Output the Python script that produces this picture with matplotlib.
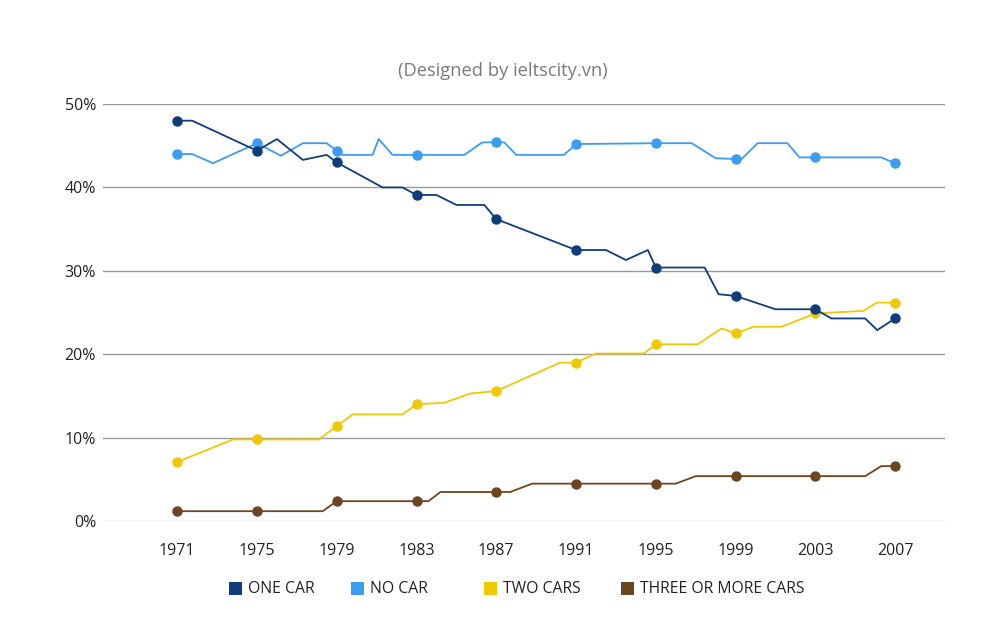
"""Car ownership share by household, 1971-2007."""

import matplotlib
matplotlib.use("Agg")
import matplotlib.pyplot as plt
from matplotlib.patches import Rectangle
from matplotlib.ticker import FuncFormatter

plt.rcParams["font.family"] = ["Open Sans", "DejaVu Sans"]

tick_years = [1971, 1975, 1979, 1983, 1987, 1991, 1995, 1999, 2003, 2007]

one_car_years = [1971, 1971.75, 1975, 1976, 1977.3, 1978.5, 1979, 1981.3, 1982.3, 1983,
                 1984, 1985, 1986.4, 1987, 1991, 1992.5, 1993.5, 1994.6, 1995, 1997.45,
                 1998.15, 1999, 2001, 2003, 2003.8, 2005.5, 2006.1, 2007]
one_car = [48.0, 48.0, 44.4, 45.8, 43.3, 43.9, 43.0, 40.0, 40.0, 39.1,
           39.1, 37.9, 37.9, 36.2, 32.5, 32.5, 31.3, 32.5, 30.4, 30.4,
           27.2, 27.0, 25.4, 25.4, 24.3, 24.3, 22.9, 24.3]

no_car_years = [1971, 1971.75, 1972.8, 1975, 1976.2, 1977.3, 1978.5, 1979, 1979.3, 1980.8,
                1981.1, 1981.8, 1983, 1985.4, 1986.3, 1987, 1987.4, 1988, 1990.4, 1991,
                1995, 1996.8, 1998, 1999, 1999.3, 2000.1, 2001.6, 2002.2, 2003, 2006.3, 2007]
no_car = [44.0, 44.0, 42.9, 45.3, 43.8, 45.3, 45.3, 44.4, 43.9, 43.9,
          45.8, 43.9, 43.9, 43.9, 45.4, 45.4, 45.4, 43.9, 43.9, 45.2,
          45.3, 45.3, 43.5, 43.4, 43.4, 45.3, 45.3, 43.6, 43.6, 43.6, 42.9]

two_cars_years = [1971, 1973.8, 1975, 1978.1, 1979, 1979.8, 1982.3, 1983, 1984.4, 1985.7,
                  1987, 1990.2, 1991, 1992, 1994.4, 1995, 1997.1, 1998.3, 1999, 1999.9,
                  2001.3, 2003, 2005.4, 2006.1, 2007]
two_cars = [7.1, 9.8, 9.8, 9.8, 11.4, 12.8, 12.8, 14.0, 14.2, 15.3,
            15.6, 19.0, 19.0, 20.1, 20.1, 21.2, 21.2, 23.1, 22.5, 23.3,
            23.3, 24.9, 25.2, 26.2, 26.2]

three_cars_years = [1971, 1975, 1978.3, 1979, 1983, 1983.6, 1984.2, 1987, 1987.7, 1988.8,
                    1991, 1995, 1996, 1997, 1999, 2003, 2005.5, 2006.3, 2007]
three_cars = [1.2, 1.2, 1.2, 2.4, 2.4, 2.4, 3.5, 3.5, 3.5, 4.5,
              4.5, 4.5, 4.5, 5.4, 5.4, 5.4, 5.4, 6.6, 6.6]

series = [
    ("ONE CAR", one_car_years, one_car, "#0e3d7c"),
    ("NO CAR", no_car_years, no_car, "#3c9cf0"),
    ("TWO CARS", two_cars_years, two_cars, "#f0c808"),
    ("THREE OR MORE CARS", three_cars_years, three_cars, "#6e4521"),
]

fig = plt.figure(figsize=(10, 6.19), dpi=100)
ax = fig.add_axes([0.103, 0.158, 0.842, 0.674])

for label, xs, ys, color in reversed(series):
    marks = [i for i, x in enumerate(xs) if x in tick_years]
    ax.plot(xs, ys, color=color, linewidth=1.3, marker="o", markersize=6.5,
            markevery=marks, label=label, zorder=3)

ax.set_xlim(1967.28, 2009.5)
ax.set_ylim(0, 50)
ax.set_xticks(tick_years)
ax.set_yticks(range(0, 51, 10))
ax.yaxis.set_major_formatter(FuncFormatter(lambda v, _: f"{v:.0f}%"))
ax.tick_params(length=0, labelsize=11.5, colors="#222222")
ax.tick_params(axis="x", pad=16)
ax.tick_params(axis="y", pad=5)
ax.grid(axis="y", color="#9a9a9a", linewidth=1.0)
ax.get_ygridlines()[0].set_color("#d0d0d0")
for s in ax.spines.values():
    s.set_visible(False)

fig.text(0.503, 0.885, "(Designed by ieltscity.vn)", ha="center", va="center",
         fontsize=13.2, color="#7a7a7a")

# legend laid out by hand to match the uneven spacing
legend_x = [0.229, 0.351, 0.484, 0.621]
for (label, _, _, color), lx in zip(series, legend_x):
    fig.add_artist(Rectangle((lx, 0.038), 0.013, 0.021, transform=fig.transFigure,
                             facecolor=color, edgecolor="none"))
    fig.text(lx + 0.019, 0.049, label, ha="left", va="center", fontsize=11.3,
             color="#222222")

fig.savefig("out.png", dpi=100)
plt.close(fig)
